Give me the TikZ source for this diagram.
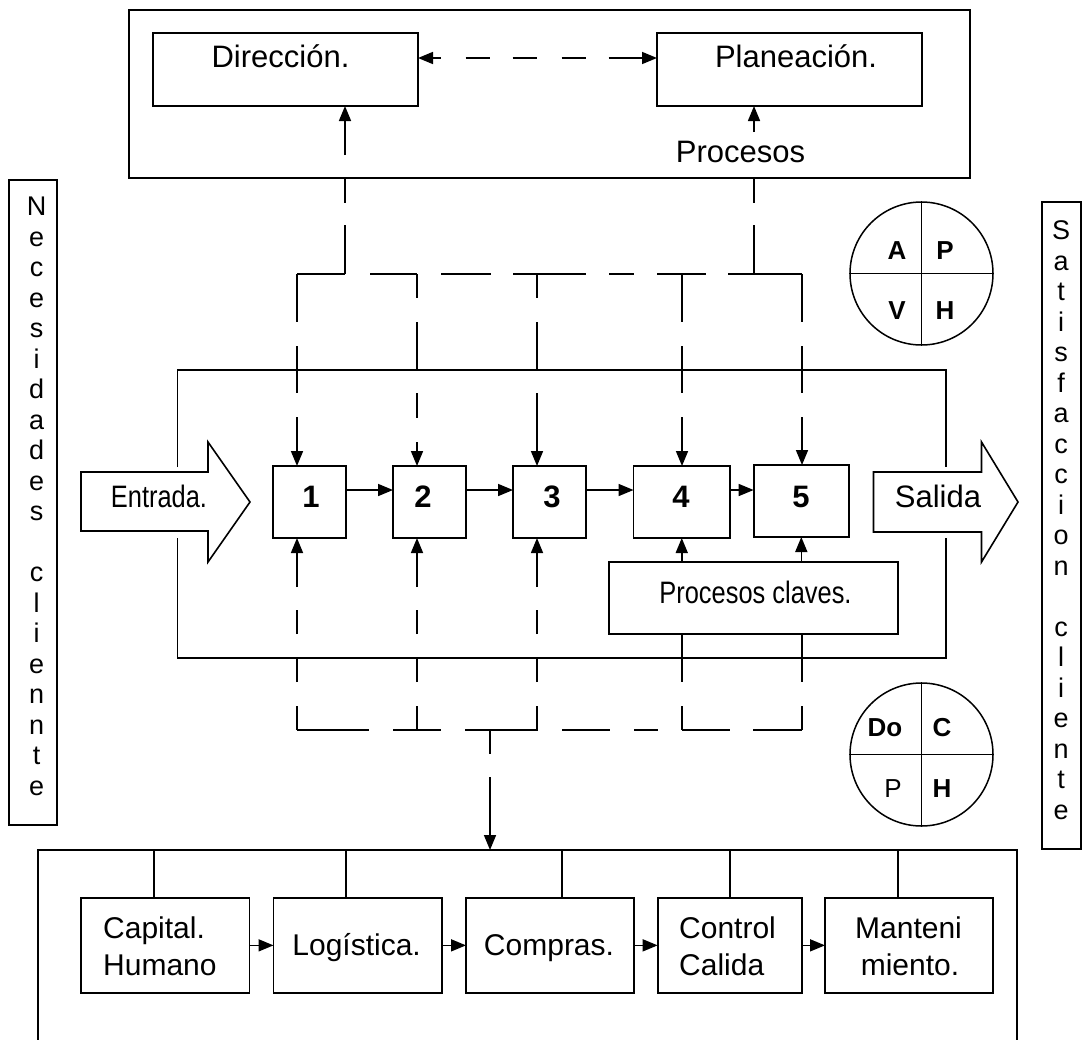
\documentclass[tikz,border=0pt]{standalone}
\usepackage{fontspec}
\setmainfont{Liberation Sans}
\newfontfamily\narrowfont[FakeStretch=0.82]{Liberation Sans}
\usetikzlibrary{arrows.meta}
\begin{document}
\begin{tikzpicture}[x=1pt,y=-1pt,
  frame/.style={draw, line width=1.8pt, inner sep=0pt, outer sep=0pt},
  ln/.style={line width=1.6pt},
  tip/.style={-{Triangle[length=15pt,width=12pt]}},
  twotips/.style={{Triangle[length=15pt,width=12pt]}-{Triangle[length=15pt,width=12pt]}},
  txt/.style={inner sep=0pt, font=\fontsize{31}{37}\selectfont},
  txtb/.style={inner sep=0pt, font=\fontsize{30}{37}\selectfont},
  narrow/.style={inner sep=0pt, font=\narrowfont\fontsize{31}{37}\selectfont},
  num/.style={inner sep=0pt, anchor=base, font=\fontsize{31}{37}\selectfont\bfseries},
  side/.style={inner sep=0pt, anchor=base, font=\fontsize{27}{30}\selectfont},
  quad/.style={inner sep=0pt, anchor=base, font=\fontsize{26}{30}\selectfont\bfseries},
  quadr/.style={inner sep=0pt, anchor=base, font=\fontsize{26}{30}\selectfont},
  pdca/.style={draw, circle, line width=1.5pt, inner sep=0pt, minimum size=143pt},
  bigarrow/.style={line width=1.6pt, fill=white, line join=miter}
]
\useasboundingbox (0,0) rectangle (1083,1039);
\fill[white] (0,0) rectangle (1083,1039);
\clip (0,0) rectangle (1083,1039);

% ---------- management box ----------
\node[frame, minimum width=841pt, minimum height=168pt] (top) at (549.5,94) {};
\node[frame, minimum width=265pt, minimum height=73pt] (dir) at (285.5,69.5) {};
\node[frame, minimum width=265pt, minimum height=73pt] (plan) at (789.5,69.5) {};
\node[txt, anchor=base] (dirT) at (280.5,67) {Dirección.};
\node[txt, anchor=base] (planT) at (796,67) {Planeación.};
\node[txt, anchor=base] (procT) at (740.5,162) {Procesos};
\coordinate (dirIn) at (345,155);
\coordinate (planIn) at (754,132);
\draw[ln,tip] (dirIn) -- (dir.south -| dirIn);
\draw[ln,tip] (planIn) -- (plan.south -| planIn);
\draw[ln,twotips,dash pattern=on 8pt off 25pt on 24pt off 23pt on 24pt off 25pt on 24pt off 23pt on 200pt off 1pt]
  ([yshift=11.5pt]dir.east) -- ([yshift=11.5pt]plan.west);

% ---------- PDCA circles ----------
\node[pdca] (cycA) at (921.5,273.5) {};
\draw[line width=1.5pt] (cycA.north) -- (cycA.south);
\draw[line width=1.5pt] (cycA.west) -- (cycA.east);
\node[quad] (qA) at (897,259) {A};
\node[quad] (qP) at (945,259) {P};
\node[quad] (qV) at (897,319) {V};
\node[quad] (qH) at (945,319) {H};

\node[pdca] (cycB) at (921.5,754.5) {};
\draw[line width=1.5pt] (cycB.north) -- (cycB.south);
\draw[line width=1.5pt] (cycB.west) -- (cycB.east);
\node[quad] (rDo) at (885,736) {Do};
\node[quad] (rC) at (942,736) {C};
\node[quadr] (rP) at (893,797.5) {P};
\node[quad] (rH) at (942,797.5) {H};

% ---------- side boxes ----------
\node[frame, minimum width=48pt, minimum height=645pt] (nec) at (33,502.5) {};
\foreach \c [count=\i from 0] in {N,e,c,e,s,i,d,a,d,e,s}
  \node[side] (necA\i) at (36.7,{215.5+30.5*\i}) {\c};
\foreach \c [count=\i from 12] in {c,l,i,e,n,n,t,e}
  \node[side] (necB\i) at (36.7,{215.5+30.5*\i}) {\c};

\node[frame, minimum width=39pt, minimum height=647pt] (sat) at (1061.5,525.5) {};
\foreach \c [count=\i from 0] in {S,a,t,i,s,f,a,c,c,i,o,n}
  \node[side] (satA\i) at (1061,{239.5+30.5*\i}) {\c};
\foreach \c [count=\i from 13] in {c,l,i,e,n,t,e}
  \node[side] (satB\i) at (1061,{239.5+30.5*\i}) {\c};

% ---------- process frame ----------
\draw[line width=1.8pt] (177.5,467) -- (177.5,370) -- (946,370) -- (946,467);
\draw[line width=1.8pt] (177.5,538) -- (177.5,658) -- (946,658) -- (946,538);

% input / output arrows
\draw[bigarrow] (81,472) -- (208,472) -- (208,442) -- (250,502) -- (208,562) -- (208,531) -- (81,531) -- cycle;
\node[narrow, anchor=base] (inT) at (159,507) {Entrada.};
\draw[bigarrow] (873.5,472) -- (981.5,472) -- (981.5,442) -- (1018,502) -- (981.5,562) -- (981.5,532) -- (873.5,532) -- cycle;
\node[txt, anchor=base] (outT) at (938,507) {Salida};

% process steps
\node[frame, minimum width=73pt, minimum height=72pt] (b1) at (309.5,502) {};
\node[frame, minimum width=73pt, minimum height=72pt] (b2) at (429.5,502) {};
\node[frame, minimum width=73pt, minimum height=72pt] (b3) at (549.5,502) {};
\node[frame, minimum width=96.5pt, minimum height=72pt] (b4) at (681.75,502) {};
\node[frame, minimum width=95.4pt, minimum height=72pt] (b5) at (801.3,501) {};
\node[num] (n1) at (311,507) {1};
\node[num] (n2) at (423,507) {2};
\node[num] (n3) at (552,507) {3};
\node[num] (n4) at (681,507) {4};
\node[num] (n5) at (801,507) {5};
\draw[ln,tip] ([yshift=12pt]b1.east) -- ([yshift=12pt]b2.west);
\draw[ln,tip] ([yshift=12pt]b2.east) -- ([yshift=12pt]b3.west);
\draw[ln,tip] ([yshift=12pt]b3.east) -- ([yshift=12pt]b4.west);
\draw[ln,tip] ([yshift=12pt]b4.east) -- ([yshift=11pt]b5.west);

% key processes
\node[frame, minimum width=289pt, minimum height=72pt] (pk) at (753.5,598) {};
\node[narrow, anchor=base] (pkT) at (755.5,603) {Procesos claves.};
\draw[ln,tip] (pk.north -| b4) -- (b4.south);
\draw[ln,tip] (pk.north -| b5) -- (b5.south);

% ---------- dashed links from management ----------
\coordinate (ta) at (345,274);
\coordinate (tb) at (754,274);
\coordinate (h1) at (297,274);
\coordinate (h2) at (417,274);
\coordinate (h3) at (537,274);
\coordinate (h4) at (682,274);
\coordinate (h5) at (802,274);
\draw[ln,dash pattern=on 25pt off 22pt on 200pt off 1pt] (top.south -| ta) -- (ta);
\draw[ln,dash pattern=on 25pt off 22pt on 200pt off 1pt] (top.south -| tb) -- (tb);
\draw[ln,dash pattern=on 48pt off 25pt on 47pt off 24pt on 50pt off 22pt on 73pt off 23pt on 25pt off 23pt on 49pt off 22pt on 200pt off 1pt]
  (h1) -- (h5);
\draw[ln,tip,dash pattern=on 48pt off 24pt on 47pt off 24pt on 200pt off 1pt] (h1) -- (b1.north -| h1);
\draw[ln,tip,dash pattern=on 24pt off 24pt on 48pt off 23pt on 25pt off 24pt on 200pt off 1pt] (h2) -- (b2.north -| h2);
\draw[ln,tip,dash pattern=on 24pt off 24pt on 48pt off 23pt on 200pt off 1pt] (h3) -- (b3.north -| h3);
\draw[ln,tip,dash pattern=on 48pt off 24pt on 47pt off 24pt on 200pt off 1pt] (h4) -- (b4.north -| h4);
\draw[ln,tip,dash pattern=on 48pt off 24pt on 47pt off 24pt on 200pt off 1pt] (h5) -- (b5.north -| h5);

% ---------- dashed links from support ----------
\coordinate (g1) at (297,730);
\coordinate (g2) at (417,730);
\coordinate (g3) at (537,730);
\coordinate (g4) at (682,730);
\coordinate (g5) at (802,730);
\coordinate (gm) at (490,730);
\draw[ln,tip,dash pattern=on 24pt off 24pt on 24pt off 24pt on 24pt off 23pt on 200pt off 1pt] (g1) -- (b1.south -| g1);
\draw[ln,tip,dash pattern=on 24pt off 24pt on 24pt off 24pt on 24pt off 23pt on 200pt off 1pt] (g2) -- (b2.south -| g2);
\draw[ln,tip,dash pattern=on 24pt off 24pt on 24pt off 24pt on 24pt off 23pt on 200pt off 1pt] (g3) -- (b3.south -| g3);
\draw[ln,dash pattern=on 48pt off 24pt on 100pt off 1pt] (pk.south -| g4) -- (g4);
\draw[ln,dash pattern=on 48pt off 24pt on 100pt off 1pt] (pk.south -| g5) -- (g5);
\draw[ln,dash pattern=on 72pt off 24pt on 48pt off 24pt on 73pt off 24pt on 48pt off 24pt on 24pt off 24pt on 48pt off 23pt on 200pt off 1pt]
  (g1) -- (g5);

% ---------- support area ----------
\node[frame, minimum width=979pt, minimum height=200pt] (bot) at (527.5,950) {};
\draw[ln,tip,dash pattern=on 24pt off 23pt on 200pt off 1pt] (gm) -- (bot.north -| gm);

\node[frame, minimum width=168.4pt, minimum height=95.3pt] (cap) at (165.2,945.35) {};
\node[frame, minimum width=168.2pt, minimum height=95.3pt] (log) at (357.6,945.35) {};
\node[frame, minimum width=168pt, minimum height=95.3pt] (com) at (550,945.35) {};
\node[frame, minimum width=144pt, minimum height=95.3pt] (con) at (729.65,945.35) {};
\node[frame, minimum width=168pt, minimum height=95.3pt] (man) at (909,945.35) {};

\coordinate (v1) at (154,0);
\coordinate (v2) at (346,0);
\coordinate (v3) at (562,0);
\coordinate (v4) at (730,0);
\coordinate (v5) at (898,0);
\draw[ln] (bot.north -| v1) -- (cap.north -| v1);
\draw[ln] (bot.north -| v2) -- (log.north -| v2);
\draw[ln] (bot.north -| v3) -- (com.north -| v3);
\draw[ln] (bot.north -| v4) -- (con.north -| v4);
\draw[ln] (bot.north -| v5) -- (man.north -| v5);

\draw[ln,tip] (cap.east) -- (log.west);
\draw[ln,tip] (log.east) -- (com.west);
\draw[ln,tip] (com.east) -- (con.west);
\draw[ln,tip] (con.east) -- (man.west);

\node[txtb, anchor=base west] (capA) at (103,938) {Capital.};
\node[txtb, anchor=base west] (capB) at (103,975) {Humano};
\node[txtb, anchor=base] (logT) at (356.6,955) {Logística.};
\node[txtb, anchor=base] (comT) at (549,955) {Compras.};
\node[txtb, anchor=base west] (conA) at (679,938) {Control};
\node[txtb, anchor=base west] (conB) at (679,975) {Calida};
\node[txtb, anchor=base] (manA) at (908.5,938) {Manteni};
\node[txtb, anchor=base] (manB) at (910,975) {miento.};
\end{tikzpicture}
\end{document}
